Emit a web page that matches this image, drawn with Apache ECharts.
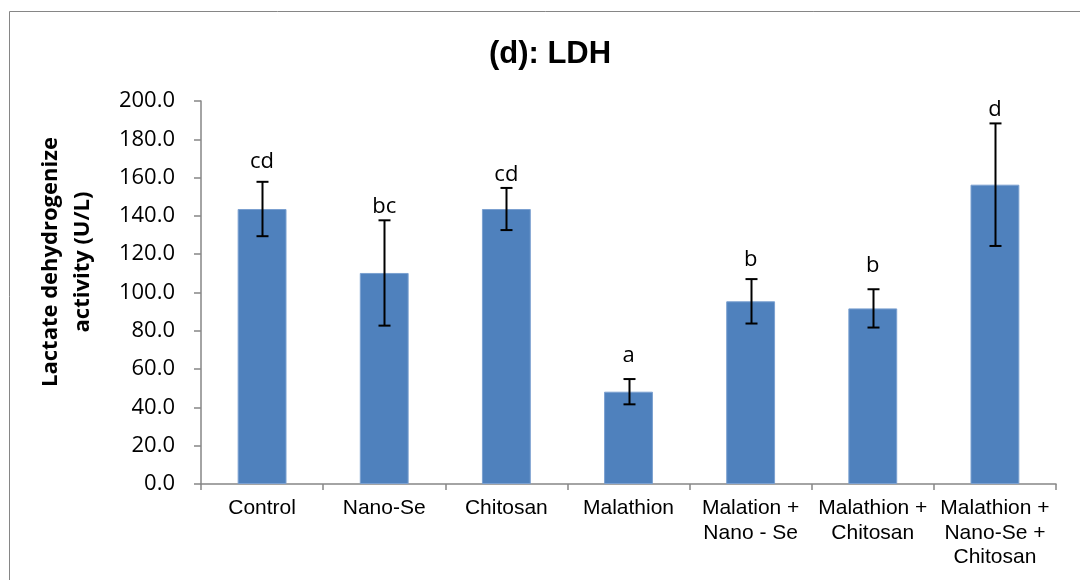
<!DOCTYPE html>
<html>
<head>
<meta charset="utf-8">
<script src="https://cdn.jsdelivr.net/npm/echarts@6/dist/echarts.min.js"></script>
<style>
html,body{margin:0;padding:0;background:#fff;}
#chart{width:1080px;height:580px;}
</style>
</head>
<body>
<div id="chart"></div>
<script>
const categories = ['Control', 'Nano-Se', 'Chitosan', 'Malathion', 'Malation +\nNano - Se', 'Malathion +\nChitosan', 'Malathion +\nNano-Se +\nChitosan'];
const means = [143.6, 110.2, 143.6, 48.2, 95.4, 91.7, 156.3];
const errors = [14.2, 27.5, 11.0, 6.6, 11.6, 10.0, 32.0];
const letters = ['cd', 'bc', 'cd', 'a', 'b', 'b', 'd'];
const letterY = [164.5, 141.0, 157.9, 63.2, 113.5, 110.3, 191.8];
const yTicks = { min: 0, max: 200, interval: 20 };
const titleText = '(d): LDH';
const yTitle = 'Lactate dehydrogenize\nactivity (U/L)';

const errData = means.map((m, i) => [i, m - errors[i], m + errors[i]]);
const letterData = letters.map((t, i) => [i, letterY[i], t]);

const chart = echarts.init(document.getElementById('chart'), null, { renderer: 'canvas' });
const axisGrey = '#868686';

chart.setOption({
  animation: false,
  backgroundColor: '#ffffff',
  title: {
    text: titleText,
    left: 545,
    textAlign: 'center',
    top: 34,
    textStyle: { fontFamily: 'Liberation Sans', fontWeight: 'bold', fontSize: 31, color: '#000' }
  },
  graphic: [
    {
      type: 'rect',
      shape: { x: 9.5, y: 11.5, width: 1200, height: 700 },
      style: { fill: 'none', stroke: axisGrey, lineWidth: 1 },
      silent: true, z: -1
    },
    {
      type: 'text',
      x: 67, y: 262,
      rotation: Math.PI / 2,
      style: {
        text: yTitle,
        align: 'center', verticalAlign: 'middle',
        fontFamily: 'Open Sans', fontWeight: 'bold', fontSize: 22, lineHeight: 32, fill: '#000'
      }
    }
  ],
  grid: { left: 201, right: 24, top: 101, bottom: 96, containLabel: false },
  xAxis: {
    type: 'category',
    data: categories,
    boundaryGap: true,
    axisLine: { lineStyle: { color: axisGrey, width: 1.5 } },
    axisTick: { show: true, alignWithLabel: false, interval: 0, length: 6, lineStyle: { color: axisGrey, width: 1.5 } },
    axisLabel: { interval: 0, margin: 12, color: '#000', fontFamily: 'Liberation Sans', fontSize: 21, lineHeight: 24.5 }
  },
  yAxis: {
    type: 'value',
    min: yTicks.min, max: yTicks.max, interval: yTicks.interval,
    splitLine: { show: false },
    axisLine: { show: true, lineStyle: { color: axisGrey, width: 1.5 } },
    axisTick: { show: true, inside: false, length: 7, lineStyle: { color: axisGrey, width: 1.5 } },
    axisLabel: { margin: 26, color: '#000', fontFamily: 'Open Sans', fontSize: 22, formatter: v => v.toFixed(1) }
  },
  series: [
    {
      type: 'bar',
      data: means,
      barWidth: '40%',
      itemStyle: { color: '#4F81BD', borderColor: '#7BA0D0', borderWidth: 1 },
      z: 2
    },
    {
      type: 'custom',
      data: errData,
      z: 5,
      renderItem: function (params, api) {
        const x = api.value(0);
        const lo = api.coord([x, api.value(1)]);
        const hi = api.coord([x, api.value(2)]);
        const cx = Math.round(lo[0]) + 0.5;
        const hw = 6;
        const st = { stroke: '#000', lineWidth: 2 };
        return {
          type: 'group',
          children: [
            { type: 'line', shape: { x1: cx, y1: hi[1], x2: cx, y2: lo[1] }, style: st },
            { type: 'line', shape: { x1: cx - hw, y1: hi[1], x2: cx + hw, y2: hi[1] }, style: st },
            { type: 'line', shape: { x1: cx - hw, y1: lo[1], x2: cx + hw, y2: lo[1] }, style: st }
          ]
        };
      }
    },
    {
      type: 'custom',
      data: letterData,
      z: 6,
      renderItem: function (params, api) {
        const p = api.coord([api.value(0), api.value(1)]);
        return {
          type: 'text',
          style: {
            text: letters[params.dataIndex],
            x: p[0], y: p[1] + 4,
            align: 'center', verticalAlign: 'bottom',
            fontFamily: 'Open Sans', fontSize: 22, fill: '#000'
          }
        };
      }
    }
  ]
});
</script>
</body>
</html>
